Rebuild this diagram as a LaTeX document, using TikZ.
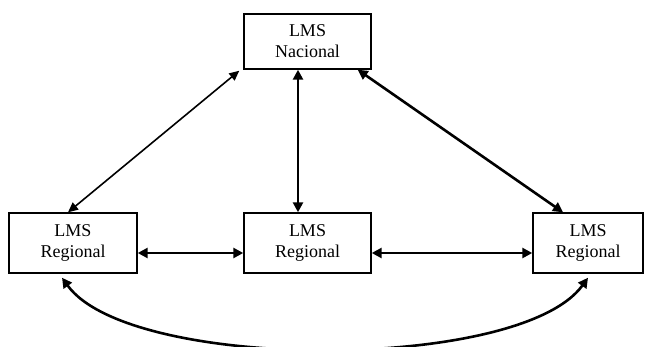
\documentclass[tikz,border=0pt]{standalone}
\usepackage{fontspec}
\setmainfont{Liberation Serif}
\usetikzlibrary{arrows.meta}
\begin{document}
\begin{tikzpicture}[x=1pt,y=-1pt,
  lms/.style={draw, line width=1.4pt, rectangle, inner sep=0pt, align=center,
    font=\fontsize{18}{21}\selectfont},
  link/.style={line width=2.6pt, {Triangle[length=10pt,width=10pt]}-{Triangle[length=10pt,width=10pt]}},
  thinlink/.style={line width=1.6pt, {Triangle[length=10pt,width=9pt]}-{Triangle[length=10pt,width=9pt]}}]
\useasboundingbox (0,0) rectangle (652,347);

% the four LMS boxes
\node[lms, minimum width=127pt, minimum height=55pt] (nac) at (307.5,41.5) {LMS\\Nacional};
\node[lms, minimum width=128pt, minimum height=60pt] (regA) at (73,243) {LMS\\Regional};
\node[lms, minimum width=127pt, minimum height=60pt] (regB) at (307.5,243) {LMS\\Regional};
\node[lms, minimum width=110pt, minimum height=60pt] (regC) at (588,243) {LMS\\Regional};

% links from the national LMS down to the regional ones
\draw[thinlink] ([xshift=-4pt,yshift=-1pt]nac.south west) -- ([xshift=-5pt]regA.north);
\draw[link] ([xshift=-9.5pt]nac.south) -- ([xshift=-9.5pt]regB.north);
\draw[link] ([xshift=-14pt]nac.south east) -- ([xshift=-25pt]regC.north);

% links between neighbouring regional LMS
\draw[link] ([yshift=-10pt]regA.east) -- ([yshift=-10pt]regB.west);
\draw[link] ([yshift=-10pt]regB.east) -- ([yshift=-10pt]regC.west);

% curved link between the two outer regional LMS
\draw[link] ([xshift=-11pt,yshift=-4pt]regA.south) .. controls (130,372) and (520,372) .. ([yshift=-4pt]regC.south);
\end{tikzpicture}
\end{document}
